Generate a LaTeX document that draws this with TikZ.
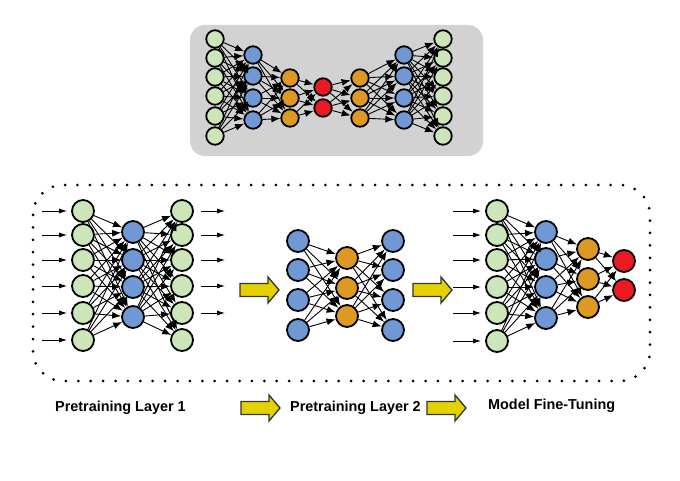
\documentclass[tikz,border=0pt]{standalone}
\usepackage{fontspec}
\setmainfont{Liberation Sans}
\usetikzlibrary{arrows.meta}
\definecolor{cgreen}{RGB}{204,230,186}
\definecolor{cblue}{RGB}{112,152,212}
\definecolor{corange}{RGB}{222,152,36}
\definecolor{cred}{RGB}{236,24,36}
\definecolor{cyellow}{RGB}{228,210,0}
\definecolor{cgray}{RGB}{210,210,210}
\begin{document}
\begin{tikzpicture}[x=1pt,y=-1pt,
  nS/.style={circle,draw=black,line width=1.8pt,minimum size=17.5pt,inner sep=0pt},
  nL/.style={circle,draw=black,line width=1.8pt,minimum size=22pt,inner sep=0pt},
  link/.style={-{Latex[length=9pt,width=7pt]},line width=0.9pt},
  inarrow/.style={-{Latex[length=8pt,width=5pt]},line width=0.8pt},
  blockarrow/.style={fill=cyellow,draw=black!80,line width=1.3pt,line join=miter},
  lbl/.style={font=\bfseries\fontsize{14.4}{16}\selectfont,anchor=west,inner sep=0pt}]
\useasboundingbox (0,0) rectangle (680,481);

% ---------- top autoencoder ----------
\fill[cgray,rounded corners=15pt] (190,25) rectangle (483,156);
\foreach \y [count=\i] in {39,58,77,96,116,136} \node[nS,fill=cgreen] (ta\i) at (215,\y) {};
\foreach \y [count=\i] in {55,76,98,120} \node[nS,fill=cblue] (tb\i) at (253,\y) {};
\foreach \y [count=\i] in {78,98,118} \node[nS,fill=corange] (tc\i) at (290,\y) {};
\foreach \y [count=\i] in {87,108} \node[nS,fill=cred] (td\i) at (323,\y) {};
\foreach \y [count=\i] in {78,98,118} \node[nS,fill=corange] (te\i) at (360,\y) {};
\foreach \y [count=\i] in {55,76,98,120} \node[nS,fill=cblue] (tf\i) at (404,\y) {};
\foreach \y [count=\i] in {39,58,77,96,116,136} \node[nS,fill=cgreen] (tg\i) at (443,\y) {};
\foreach \i in {1,...,6} \foreach \j in {1,...,4} \draw[link] (ta\i) -- (tb\j);
\foreach \i in {1,...,4} \foreach \j in {1,...,3} \draw[link] (tb\i) -- (tc\j);
\foreach \i in {1,...,3} \foreach \j in {1,2} \draw[link] (tc\i) -- (td\j);
\foreach \i in {1,2} \foreach \j in {1,...,3} \draw[link] (td\i) -- (te\j);
\foreach \i in {1,...,3} \foreach \j in {1,...,4} \draw[link] (te\i) -- (tf\j);
\foreach \i in {1,...,4} \foreach \j in {1,...,6} \draw[link] (tf\i) -- (tg\j);

% ---------- dotted frame ----------
\draw[line width=3pt,line cap=round,dash pattern=on 0pt off 12.4pt,rounded corners=30pt]
  (33,185) rectangle (650,381);

% ---------- network 1 ----------
\foreach \y [count=\i] in {211,235,260,286,313,340} {
  \node[nL,fill=cgreen] (na\i) at (83,\y) {};
  \coordinate (ni\i) at (42,\y);
  \draw[inarrow,shorten >=4pt] (ni\i) -- (na\i);
}
\foreach \y [count=\i] in {232,260,287,317} \node[nL,fill=cblue] (nb\i) at (133,\y) {};
\foreach \y [count=\i] in {211,235,260,286,313,340} \node[nL,fill=cgreen] (nc\i) at (182,\y) {};
\foreach \y [count=\i] in {211,235,260,286,313} {
  \coordinate (no\i) at (225,\y);
  \draw[inarrow,shorten <=7pt] (nc\i) -- (no\i);
}
\foreach \i in {1,...,6} \foreach \j in {1,...,4} \draw[link] (na\i) -- (nb\j);
\foreach \i in {1,...,4} \foreach \j in {1,...,6} \draw[link] (nb\i) -- (nc\j);

% ---------- network 2 ----------
\foreach \y [count=\i] in {241,270,300,330} \node[nL,fill=cblue] (ma\i) at (298,\y) {};
\foreach \y [count=\i] in {258,288,316} \node[nL,fill=corange] (mb\i) at (347,\y) {};
\foreach \y [count=\i] in {241,270,300,330} \node[nL,fill=cblue] (mc\i) at (393,\y) {};
\foreach \i in {1,...,4} \foreach \j in {1,...,3} \draw[link] (ma\i) -- (mb\j);
\foreach \i in {1,...,3} \foreach \j in {1,...,4} \draw[link] (mb\i) -- (mc\j);

% ---------- network 3 ----------
\foreach \y [count=\i] in {211,235,260,287,313,341} {
  \node[nL,fill=cgreen] (ka\i) at (497,\y) {};
  \coordinate (ki\i) at (453,\y);
  \draw[inarrow,shorten >=4pt] (ki\i) -- (ka\i);
}
\foreach \y [count=\i] in {232,259,287,318} \node[nL,fill=cblue] (kb\i) at (546,\y) {};
\foreach \y [count=\i] in {249,279,307} \node[nL,fill=corange] (kc\i) at (588,\y) {};
\foreach \y [count=\i] in {261,290} \node[nL,fill=cred] (kd\i) at (624,\y) {};
\foreach \i in {1,...,6} \foreach \j in {1,...,4} \draw[link] (ka\i) -- (kb\j);
\foreach \i in {1,...,4} \foreach \j in {1,...,3} \draw[link] (kb\i) -- (kc\j);
\foreach \i in {1,...,3} \foreach \j in {1,2} \draw[link] (kc\i) -- (kd\j);

% ---------- yellow block arrows ----------
\foreach \x/\y in {240/290, 413/290, 241/408, 427/408} {
  \draw[blockarrow] (\x,\y-6.5) -- ++(28,0) -- ++(0,-6.5) -- ++(11,13) -- ++(-11,13)
     -- ++(0,-6.5) -- ++(-28,0) -- cycle;
}

% ---------- labels ----------
\node[lbl] (l1) at (55,408) {Pretraining Layer 1};
\node[lbl] (l2) at (290,408) {Pretraining Layer 2};
\node[lbl] (l3) at (488,406) {Model Fine-Tuning};
\end{tikzpicture}
\end{document}
